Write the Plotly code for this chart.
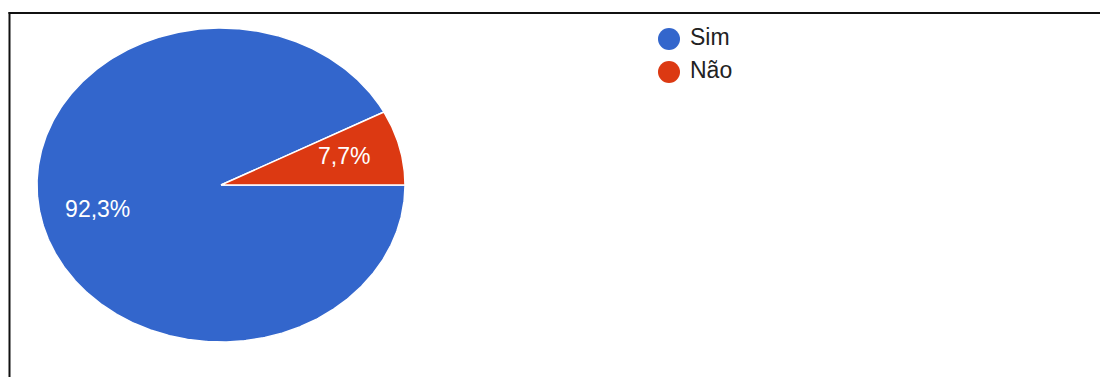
import numpy as np
import plotly.graph_objects as go

# ---- data ----
categories = ["Sim", "Não"]
counts = [12, 1]
colors = ["#3366cc", "#dc3912"]

W, H = 1100, 377
total = sum(counts)
percents = [c / total * 100 for c in counts]

fig = go.Figure()

# pie wedges drawn on a unit circle; the axis domains stretch it like the reference
start = 0.0  # degrees, 3 o'clock, going clockwise
label_x, label_y, label_txt = [], [], []
for cat, p, col in zip(categories, percents, colors):
    sweep = p / 100 * 360
    a0, a1 = start, start - sweep
    ang = np.radians(np.linspace(a0, a1, max(int(abs(sweep) * 2), 8)))
    xs = np.concatenate([[0], np.cos(ang), [0]])
    ys = np.concatenate([[0], np.sin(ang), [0]])
    fig.add_trace(go.Scatter(
        x=xs, y=ys, mode="lines", fill="toself", fillcolor=col,
        line=dict(color="white", width=1.5), hoverinfo="text",
        text=f"{cat}: {p:.1f}%".replace(".", ","), showlegend=False,
        xaxis="x", yaxis="y"))
    mid = np.radians((a0 + a1) / 2)
    label_x.append(0.69 * np.cos(mid))
    label_y.append(0.70 * np.sin(mid))
    label_txt.append(f"{p:.1f}".replace(".", ",") + "%")
    start = a1

fig.add_trace(go.Scatter(
    x=label_x, y=label_y, mode="text", text=label_txt,
    textfont=dict(color="white", size=23, family="Arial, Liberation Sans"),
    hoverinfo="skip", showlegend=False, xaxis="x", yaxis="y"))

# custom legend (pixel-like overlay axes)
leg_y = [39 + 33 * i for i in range(len(categories))]
fig.add_trace(go.Scatter(
    x=[669] * len(categories), y=leg_y, mode="markers",
    marker=dict(size=22, color=colors), hoverinfo="skip",
    showlegend=False, xaxis="x2", yaxis="y2"))
fig.add_trace(go.Scatter(
    x=[690] * len(categories), y=leg_y, mode="text", text=categories,
    textposition="middle right",
    textfont=dict(color="#222222", size=23, family="Arial, Liberation Sans"),
    hoverinfo="skip", showlegend=False, xaxis="x2", yaxis="y2"))

hidden = dict(visible=False, showgrid=False, zeroline=False, fixedrange=True)
fig.update_layout(
    width=W, height=H,
    margin=dict(l=0, r=0, t=0, b=0),
    paper_bgcolor="white", plot_bgcolor="rgba(0,0,0,0)",
    showlegend=False,
    xaxis=dict(domain=[37 / W, 405 / W], range=[-1, 1], anchor="y", **hidden),
    yaxis=dict(domain=[(H - 342) / H, (H - 28) / H], range=[-1, 1], anchor="x", **hidden),
    xaxis2=dict(domain=[0, 1], range=[0, W], anchor="y2", **hidden),
    yaxis2=dict(domain=[0, 1], range=[H, 0], anchor="x2", **hidden),
    shapes=[
        dict(type="line", xref="paper", yref="paper",
             x0=8.5 / W, x1=1, y0=1 - 13 / H, y1=1 - 13 / H,
             line=dict(color="#111111", width=2)),
        dict(type="line", xref="paper", yref="paper",
             x0=9.5 / W, x1=9.5 / W, y0=0, y1=1 - 12 / H,
             line=dict(color="#111111", width=2)),
    ],
)

fig.write_html("out.html", config={"displayModeBar": False})
